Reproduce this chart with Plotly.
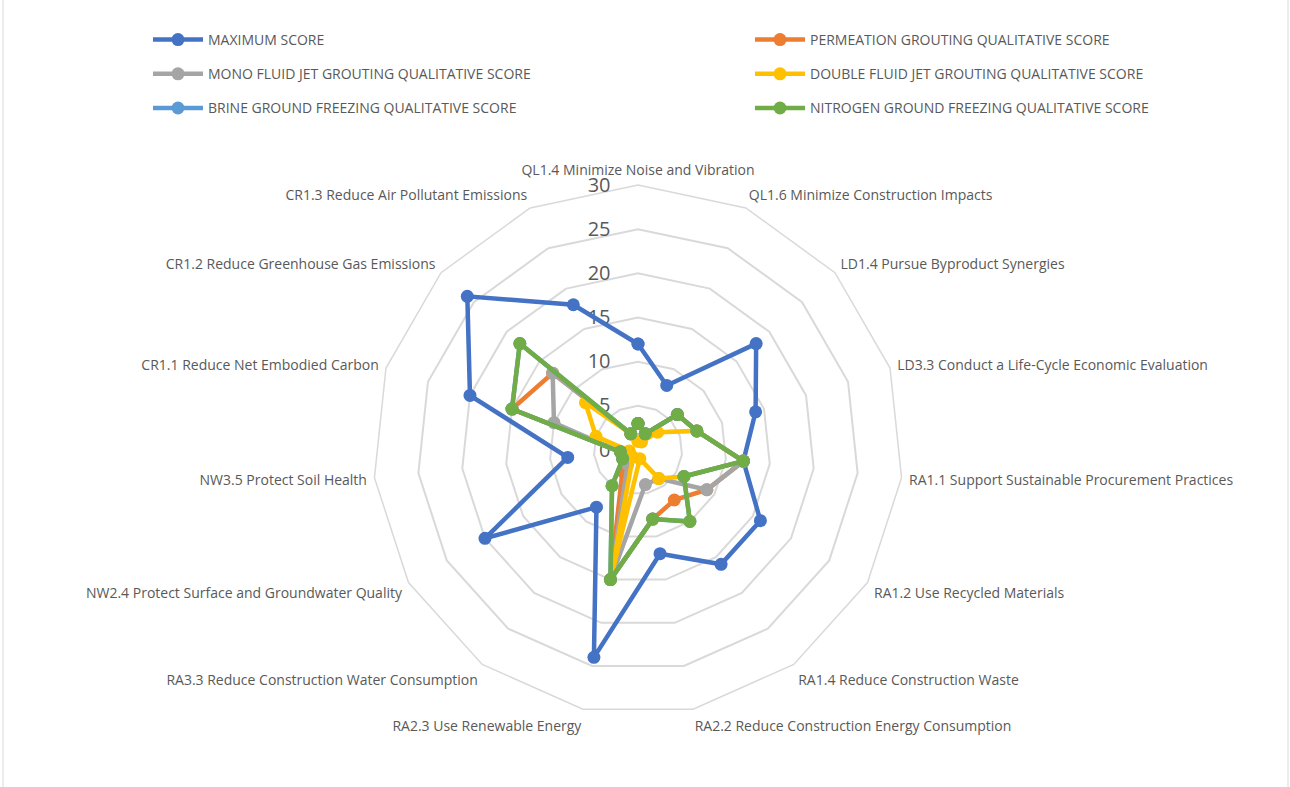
import plotly.graph_objects as go

categories = [
    "QL1.4 Minimize Noise and Vibration",
    "QL1.6 Minimize Construction Impacts",
    "LD1.4 Pursue Byproduct Synergies",
    "LD3.3 Conduct a Life-Cycle Economic Evaluation",
    "RA1.1 Support Sustainable Procurement Practices",
    "RA1.2 Use Recycled Materials",
    "RA1.4 Reduce Construction Waste",
    "RA2.2 Reduce Construction Energy Consumption",
    "RA2.3 Use Renewable Energy",
    "RA3.3 Reduce Construction Water Consumption",
    "NW2.4 Protect Surface and Groundwater Quality",
    "NW3.5 Protect Soil Health",
    "CR1.1 Reduce Net Embodied Carbon",
    "CR1.2 Reduce Greenhouse Gas Emissions",
    "CR1.3 Reduce Air Pollutant Emissions",
]

maximum = [12, 8, 18, 14, 12, 16, 16, 12, 24, 8, 20, 8, 20, 26, 18]
permeation = [3, 2, 6, 7, 12, 9, 7, 8, 15, 3, 2, 2, 15, 13, 2]
mono_jet = [3, 2, 6, 7, 12, 9, 4, 4, 15, 2, 2, 2, 10, 13, 2]
double_jet = [1, 1, 3, 7, 12, 6, 4, 1, 15, 1, 1, 1, 5, 8, 2]
brine = [3, 2, 6, 7, 12, 6, 10, 8, 15, 5, 2, 2, 15, 18, 2]
nitrogen = [3, 2, 6, 7, 12, 6, 10, 8, 15, 5, 2, 2, 15, 18, 2]

radial_ticks = [0, 5, 10, 15, 20, 25, 30]

series = [
    ("MAXIMUM SCORE", maximum, "#4472C4", "legend"),
    ("PERMEATION GROUTING QUALITATIVE SCORE", permeation, "#ED7D31", "legend2"),
    ("MONO FLUID JET GROUTING QUALITATIVE SCORE", mono_jet, "#A5A5A5", "legend"),
    ("DOUBLE FLUID JET GROUTING QUALITATIVE SCORE", double_jet, "#FFC000", "legend2"),
    ("BRINE GROUND FREEZING QUALITATIVE SCORE", brine, "#5B9BD5", "legend"),
    ("NITROGEN GROUND FREEZING QUALITATIVE SCORE", nitrogen, "#70AD47", "legend2"),
]

fig = go.Figure()
for i, (name, vals, color, leg) in enumerate(series):
    fig.add_trace(go.Scatterpolar(
        r=vals + vals[:1],
        theta=categories + categories[:1],
        mode="lines+markers",
        name=name,
        legend=leg,
        legendgroup=f"g{i}",
        line=dict(color=color, width=4.5),
        marker=dict(color=color, size=13),
    ))

W, H = 1290, 787
cx, cy, rad = 638, 450, 265
legend_font = dict(family="Open Sans", size=14, color="#595959")

fig.update_layout(
    width=W, height=H,
    margin=dict(l=0, r=0, t=0, b=0),
    paper_bgcolor="white",
    plot_bgcolor="white",
    polar=dict(
        domain=dict(x=[(cx - rad) / W, (cx + rad) / W],
                    y=[(H - cy - rad) / H, (H - cy + rad) / H]),
        gridshape="linear",
        bgcolor="white",
        angularaxis=dict(
            direction="clockwise", rotation=90,
            showline=True, linecolor="#d9d9d9", linewidth=1.5,
            showgrid=False,
            ticks="outside", ticklen=4, tickcolor="rgba(0,0,0,0)",
            tickfont=dict(family="Open Sans", size=14, color="#595959"),
            layer="below traces",
        ),
        radialaxis=dict(
            range=[0, 30], tickvals=radial_ticks, angle=90, tickangle=90,
            side="counterclockwise",
            ticks="outside", ticklen=20, tickcolor="rgba(0,0,0,0)",
            showline=False, gridcolor="#d9d9d9", gridwidth=1.5,
            tickfont=dict(family="Open Sans", size=20, color="#595959"),
            layer="below traces",
        ),
    ),
    legend=dict(x=148 / W, y=1 - 24 / H, xanchor="left", yanchor="top",
                font=legend_font, tracegroupgap=13, itemwidth=50,
                bgcolor="rgba(0,0,0,0)"),
    legend2=dict(x=750 / W, y=1 - 24 / H, xanchor="left", yanchor="top",
                 font=legend_font, tracegroupgap=13, itemwidth=50,
                 bgcolor="rgba(0,0,0,0)"),
    shapes=[dict(type="rect", xref="paper", yref="paper",
                 x0=3 / W, x1=1288 / W, y0=-0.02, y1=1.02,
                 line=dict(color="#d9d9d9", width=1))],
)

fig.write_html("out.html", config={"displayModeBar": False},
               post_script="document.body.style.margin='0';")
